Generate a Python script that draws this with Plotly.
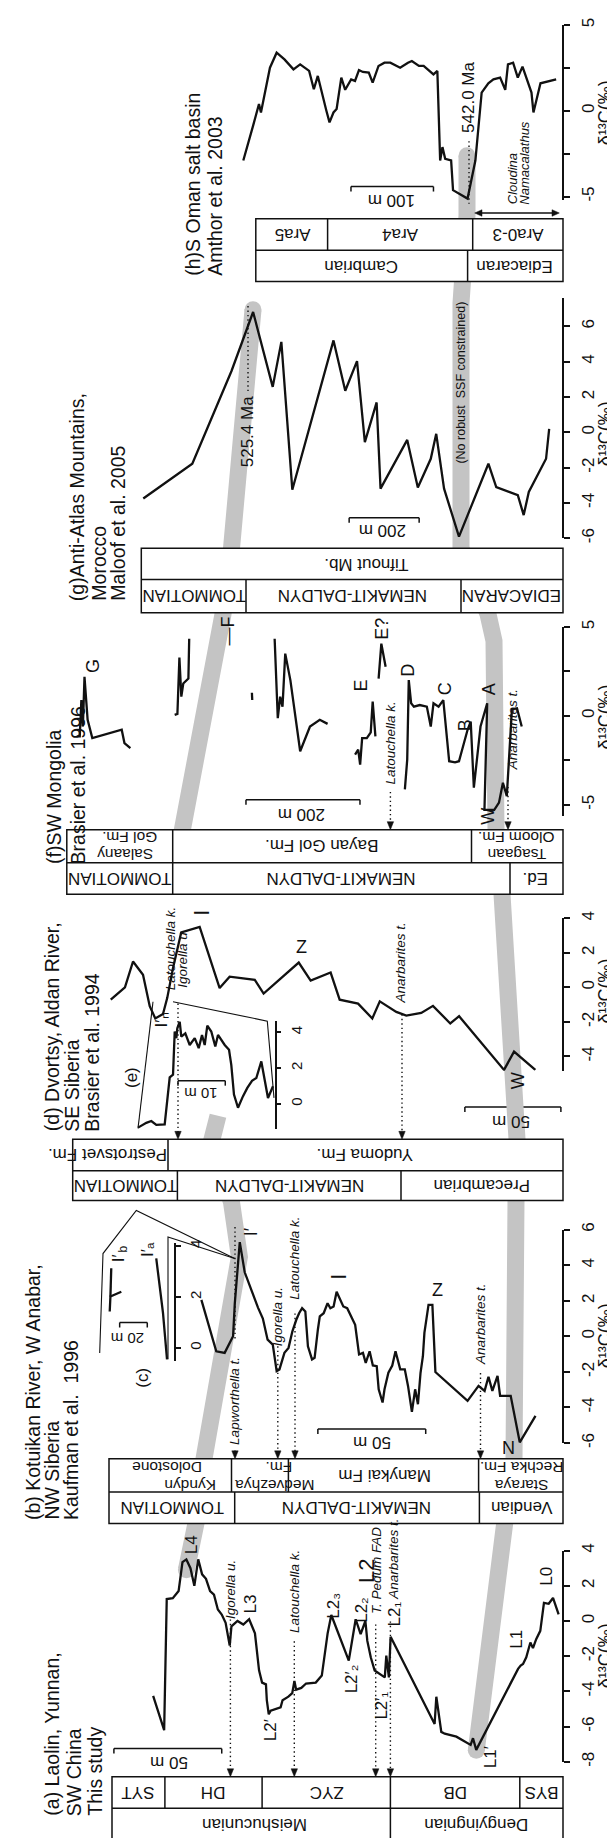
import plotly.graph_objects as go

W, H = 615, 1838
FONT = "Liberation Sans, Arial, Helvetica, sans-serif"
INK = "#111111"
BAND = "#c4c4c4"

# ---------------- data (height in m, d13C in permil) ----------------
# (a) Laolin, Yunnan
a_height = [1.1, 3.7, 5.7, 7.9, 9.6, 11.5, 13.0, 14.2, 16.1, 17.6, 18.7, 19.9, 39.3, 40.8, 41.9, 44.6,
            48.5, 53.9, 55.5, 57.8, 58.6, 79.0, 79.8, 81.0, 81.7, 86.4, 88.2, 89.8, 90.7, 92.9, 95.2,
            98.4, 106.5, 108.2, 109.5, 110.9, 113.7, 118.2, 120.4, 122.8, 123.6, 124.6, 126.4, 129.1,
            130.0, 134.6, 135.5, 136.4, 136.8, 138.6, 140.0, 141.9, 144.6, 147.3, 150.0, 152.8, 153.6,
            155.5, 157.3, 159.1, 160.9, 162.7, 164.6, 166.4, 168.2, 170.0, 171.8, 173.7, 175.5, 177.3,
            180.0, 182.8, 184.0, 189.1]
a_d13c = [0.38, 1.31, 0.98, 1.03, -0.56, -1.03, -1.54, -1.22, -2.06, -2.44, -2.53, -2.72, -7.32, -6.66,
          -7.04, -6.85, -6.57, -6.4, -6.3, -4.3, -5.85, -0.9, -3.2, -1.97, -3.2, -2.81, -2.06, -1.13, 0.0,
          -0.75, 0.1, -2.25, 0.34, -0.7, -1.85, -3.1, -3.5, -3.55, -3.8, -3.9, -3.4, -4.1, -4.3, -4.5,
          -4.9, -5.1, -5.3, -4.5, -3.6, -3.5, -2.8, -0.7, 0.1, -0.2, 0.0, -0.3, -1.4, -0.1, 0.37, 0.65,
          1.5, 1.7, 2.4, 2.65, 3.5, 2.0, 3.0, 3.5, 3.35, 1.7, 1.3, 1.25, -6.2, -4.25]
a_ticks = [-8, -6, -4, -2, 0, 2, 4]

# (b) Kotuikan River
b_height = [5.8, 13.1, 17.3, 22.2, 23.4, 25.8, 27.6, 29.4, 32.2, 37.3, 52.2, 53.6, 55.4, 57.3, 58.0,
            59.1, 60.3, 61.6, 63.1, 64.9, 66.4, 68.5, 70.7, 72.2, 74.0, 75.8, 76.7, 78.5, 79.4, 81.2,
            82.7, 84.5, 85.8, 87.6, 89.4, 91.3, 93.1, 94.9, 96.2, 98.0, 99.4, 100.9, 102.2, 104.0, 105.8,
            106.7, 108.2, 109.4, 111.3, 112.5, 114.0, 115.4, 116.7, 118.5, 120.3, 122.2, 124.5, 125.8,
            127.6, 130.0, 132.2, 134.4, 137.5, 140.6, 142.9, 145.2, 146.0, 149.9, 153.8, 160.7]
b_d13c = [-4.47, -5.96, -3.35, -3.35, -2.23, -3.07, -2.27, -3.07, -2.79, -3.63, -2.01, 1.77, 1.77, 0.19,
          -1.12, -2.05, -3.82, -2.98, -4.25, -2.79, -1.86, -1.86, -0.84, -1.64, -2.05, -2.98, -3.72,
          -2.98, -1.68, -1.64, -0.84, -1.49, -0.93, -1.02, 0.65, 1.12, 1.58, 1.68, 2.05, 2.51, 1.68,
          1.58, 1.86, 1.30, 1.12, 0.37, -1.21, -1.30, -0.56, 1.40, 1.58, 1.30, 0.93, 0.28, -0.65, -0.93,
          -1.86, -1.96, -0.47, -0.19, 1.0, 1.6, 2.6, 3.6, 5.3, 1.86, 0.0, -0.93, -0.84, 2.05]
b_ticks = [-6, -4, -2, 0, 2, 4, 6]

# (c) inset of Kotuikan
c_Ia_height = [6.0, 8.9, 13.8]
c_Ia_d13c = [-0.45, 1.37, 3.52]
c_Ib_height = [39.1, 47.0, 47.5, None, 47.0, 46.4]
c_Ib_d13c = [2.21, 2.02, 1.43, None, 2.02, 3.13]
c_ticks = [0, 2, 4]

# (d) Dvortsy, Aldan River
d_height = [1.1, 12.2, 17.4, 40.8, 45.4, 54.4, 60.5, 68.3, 73.5, 82.1, 86.0, 93.4, 103.0, 107.7, 118.1,
            124.3, 142.6, 147.2, 160.3, 165.5, 175.9, 185.5, 189.8, 192.8, 195.0, 199.0, 201.9, 205.4,
            210.6, 214.8, 222.2]
d_d13c = [-4.78, -3.72, -4.78, -1.67, -2.09, -1.07, -1.48, -1.63, -1.42, -0.81, -1.8, -0.94, -0.71,
          0.86, 0.39, 1.44, -0.36, 0.44, 0.62, -0.04, 3.51, 3.18, 1.11, -0.62, -1.54, -1.8, -1.09, 0.73,
          1.5, 0.0, -0.71]
d_ticks = [-4, -2, 0, 2, 4]

# (e) inset of Dvortsy
e_height = [0.57, 1.63, 3.04, 4.10, 5.01, 6.00, 6.91, 7.97, 8.82, 9.39, 9.87, 10.78, 12.20, 12.77,
            13.62, 14.46, 15.01, 15.58, 16.28, 17.12, 18.18, 19.11, 19.96, 20.30, 20.80, 21.01, 21.35,
            21.71, 22.41, 23.47, 25.24, 26.30, 27.36, 29.11]
e_d13c = [0.98, 0.33, 2.37, 1.44, 1.29, 0.89, 0.43, -0.22, 0.52, 2.18, 3.02, 3.29, 3.85, 3.21, 4.04,
          4.37, 3.29, 3.85, 3.11, 3.67, 3.29, 3.94, 3.76, 4.59, 4.22, 3.67, 4.04, 1.63, 1.48, -1.15,
          -1.18, -0.96, -1.06, -1.33]
e_ticks = [0, 2, 4]

# (f) SW Mongolia (separate segments split by None)
f_height = [2.2, 10.5, 19.4, 28.4, 35.2, 42.1, 50.4, 67.6, 62.8, 69.6, 74.5, 86.2, 91.7, 97.2, 104.1,
            112.3, 119.2, 129.5, 139.8, 148.1, 157.0, 161.8, 168.7, 181.1, 191.4, 196.2, 200.4, 203.1,
            207.2, None,
            294.6, 289.1, 285.7, 282.2, 274.0, 267.1, 263.7, 260.2, 258.9, None,
            253.3, 248.5, 241.0, None,
            435.7, 430.2, 426.0, 421.9, 417.1, 408.1, 390.9, 373.7, 356.5, 342.8, None,
            475.6, 475.0, None,
            611.1, 606.3, 602.8, 599.4, 596.0, 590.5, 587.0, 585.6, None,
            783.1, 777.6, 774.8, 772.1, 769.3, 763.8, 755.6, 704.0, 699.2, 688.8]
f_d13c = [-0.60, 0.43, 0.37, -4.51, -3.76, -4.88, -5.29, -5.29, 0.71, -0.13, -0.60, -4.04, -0.32, -0.78,
          -1.53, -2.55, -2.61, -2.55, 0.89, 0.52, 0.71, -0.60, 0.52, 0.61, 0.52, 0.71, 2.01, -2.46,
          -4.13, None,
          -2.18, -1.90, -2.74, -1.25, -1.25, -0.93, 0.80, -0.32, -1.15, None,
          2.10, 4.06, 2.76, None,
          4.34, -0.13, 1.08, 0.52, 3.50, 2.01, -1.99, -0.60, -0.22, -0.45, None,
          1.30, 0.89, None,
          0.06, 0.11, 3.28, 1.08, 1.82, 2.01, 2.10, 4.34, None,
          -1.15, -1.15, 0.89, -0.60, 2.20, -0.22, -1.25, -0.78, -1.53, -1.81]
f_ticks = [-5, -2.5, 0, 2.5, 5]
f_ticktext = ["-5", "", "0", "", "5"]

# (g) Anti-Atlas, Morocco
g_height = [-0.5, 8.4, 57.7, 72.3, 89.1, 150.7, 173.1, 257.2, 299.8, 322.2, 337.8, 374.8, 405.1,
            481.3, 492.5, 526.1, 548.5, 582.1, 615.7, 733.4, 764.7, 789.4, 845.4, 907.1, 1019.1, 1159.2]
g_d13c = [0.19, -1.50, -3.38, -4.69, -3.56, -3.10, -1.78, -5.91, -3.19, -0.09, -1.50, -3.13, -0.43,
          -3.19, 1.69, -0.56, 4.03, 2.35, 5.20, -3.25, 5.12, 2.57, 6.81, 3.47, -1.78, -3.75]
g_ticks = [-6, -4, -2, 0, 2, 4, 6]

# (h) S Oman salt basin
h_height = [-0.2, 18.8, 27.3, 29.7, 40.6, 46.3, 52.0, 58.2, 61.5, 67.7, 75.8, 82.0, 90.1, 97.7, 107.2,
            124.8, 127.1, 134.3, 137.6, 140.4, 143.8, 148.5, 160.4, 166.1, 174.7, 179.4, 188.9, 200.8,
            207.9, 215.1, 222.2, 226.9, 234.1, 238.8, 243.6, 248.3, 255.5, 260.2, 265.9, 269.7, 274.5,
            278.3, 288.7, 293.5, 299.2, 310.1, 318.2, 329.1, 338.6, 346.7, 357.6, 360.0, 367.1, 379.0]
h_d13c = [1.83, 1.60, -0.10, 1.06, 2.57, 1.93, 2.80, 2.70, 1.22, 1.93, 1.83, 1.60, 1.06, -2.90, -5.12,
          -4.63, -2.90, -2.80, -2.12, -2.90, 2.32, 2.12, 2.61, 2.61, 2.90, 2.80, 2.51, 2.80, 2.80, 2.61,
          1.64, 2.22, 2.26, 2.37, 1.74, 1.83, 1.22, 1.93, 0.10, -0.10, -0.68, 0.0, 2.03, 1.25, 2.32,
          2.70, 2.41, 2.99, 3.38, 2.51, -0.10, 0.39, -0.87, -2.90]
h_ticks = [-5, -2.5, 0, 2.5, 5]
h_ticktext = ["-5", "", "0", "", "5"]

# scale bar lengths (m)
scale_a, scale_b, scale_d, scale_f, scale_g, scale_h, scale_c, scale_e = 50, 50, 50, 200, 200, 100, 20, 10


def py(Y):
    return 1 - Y / H


fig = go.Figure()
# base pixel-space axis for layout decorations
fig.add_trace(go.Scatter(x=[0], y=[0], mode="markers", marker=dict(opacity=0), hoverinfo="skip",
                         showlegend=False, xaxis="x", yaxis="y"))

layout = dict(
    width=W, height=H, margin=dict(l=0, r=0, t=0, b=0), paper_bgcolor="white",
    plot_bgcolor="rgba(0,0,0,0)", showlegend=False, font=dict(family=FONT, color=INK, size=16),
    xaxis=dict(domain=[0, 1], range=[0, W], visible=False, fixedrange=True),
    yaxis=dict(domain=[0, 1], range=[H, 0], visible=False, fixedrange=True),
)

panels = [
    # idx, heights, values, x-px of d13C axis, xrange, Y bottom, Y top, yrange, ticks, ticktext, font, ticklen, standoff
    (2, a_height, a_d13c, 555, [256.4, -0.93], 1758.3, 1545.7, [-8, 4], a_ticks, None, 17, 6, 4),
    (3, b_height, b_d13c, 555, [250.35, -6.95], 1437.4, 1222.6, [-6, 6], b_ticks, None, 17, 6, 4),
    (4, c_Ia_height, c_Ia_d13c, 167.3, [121.2, 0], 1354.5, 1236.2, [-0.5, 4.12], c_ticks, None, 15, 5, 2),
    (5, d_height, d_d13c, 555, [275.7, -13.3], 1062.7, 909.3, [-4.83, 4], d_ticks, None, 17, 6, 4),
    (6, e_height, e_d13c, 267.7, [56.6, 0], 1121.2, 1012.8, [-1.4, 4.62], e_ticks, None, 15, 5, 3),
    (7, f_height, f_d13c, 555, [903.5, -70.2], 806.6, 616, [-5.65, 5], f_ticks, f_ticktext, 17, 6, 4),
    (8, g_height, g_d13c, 555, [1545.7, -40], 526.7, 284.9, [-6, 7.6], g_ticks, None, 17, 6, 4),
    (9, h_height, h_d13c, 555, [664.2, -8.5], 186.7, 10, [-5.23, 5], h_ticks, h_ticktext, 17, 6, 4),
]

for idx, hs, ds, xr_px, xr, yb, yt, yr, tv, tt, fs, tl, so in panels:
    layout[f"xaxis{idx}"] = dict(domain=[0, xr_px / W], range=xr, visible=False, fixedrange=True,
                                 anchor=f"y{idx}")
    layout[f"yaxis{idx}"] = dict(
        domain=[py(yb), py(yt)], range=yr, anchor="free", position=xr_px / W, side="right",
        showline=True, linecolor=INK, linewidth=1.5, ticks="outside", ticklen=tl, tickwidth=1.5,
        tickcolor=INK, tickvals=tv, ticktext=tt if tt else [str(v) for v in tv], tickangle=-90,
        tickfont=dict(size=fs, family=FONT, color=INK), showgrid=False, zeroline=False,
        fixedrange=True, ticklabelstandoff=so)
    fig.add_trace(go.Scatter(x=hs, y=ds, xaxis=f"x{idx}", yaxis=f"y{idx}", mode="lines",
                             line=dict(color=INK, width=2.3), hoverinfo="skip", showlegend=False,
                             connectgaps=False))
# second inset curve in (c)
fig.add_trace(go.Scatter(x=c_Ib_height, y=c_Ib_d13c, xaxis="x4", yaxis="y4", mode="lines",
                         line=dict(color=INK, width=2.3), hoverinfo="skip", showlegend=False,
                         connectgaps=False))

shapes = []
ann = []


def line(x0, y0, x1, y1, w=1.5, dash=None, xref="x"):
    d = dict(type="line", x0=x0, y0=y0, x1=x1, y1=y1, xref=xref, yref="y", layer="below",
             line=dict(color=INK, width=w))
    if dash:
        d["line"]["dash"] = dash
    shapes.append(d)


def path(p, w=1.0, color=INK, fill=None, layer="below"):
    d = dict(type="path", path=p, xref="x", yref="y", layer=layer, line=dict(color=color, width=w))
    if fill:
        d["fillcolor"] = fill
    shapes.append(d)


def text(x, y, s, size=16, angle=0, italic=False, xa="center", ya="middle"):
    f = dict(size=size, family=FONT, color=INK)
    if italic:
        f["style"] = "italic"
    ann.append(dict(x=x, y=y, xref="x", yref="y", text=s, showarrow=False, textangle=angle,
                    font=f, xanchor=xa, yanchor=ya))


# ---- grey correlation bands ----
BW = 17
path("M 178.4,1565 L 188,1518 L 196,1453.3 L 231.4,1250 L 223.5,1195 L 204,1131.7 L 210,1108",
     w=BW, color=BAND)
path("M 172.5,830 L 215,603 L 223.5,536.7 L 245,296.7", w=BW, color=BAND)
path("M 468.3,1746.7 L 496.7,1518 L 506,1453.3 L 508,1193 L 509,1131.7 L 494,885 L 488,820 "
     "L 486,630 L 480,603 L 453,536.7 L 453,290 L 459,201.7 L 459,141.7", w=BW, color=BAND)
for cx, cy in [(178.4, 1565), (468.3, 1746.7), (245, 296.7), (459, 141.7)]:
    r = BW / 2
    shapes.append(dict(type="circle", x0=cx - r, x1=cx + r, y0=cy - r, y1=cy + r, xref="x", yref="y",
                       layer="below", fillcolor=BAND, line=dict(width=0)))

# ---- stratigraphic boxes ----
boxes = [
    dict(x0=104, x1=555, y0=1773.3, y1=1805, y2=1836.7, d1=[511.8, 382.4, 254.1, 156.9], d2=[382.4],
         t1=[(533.3, "BYS", 0), (447, "DB", 0), (318.4, "ZYC", 0), (204.7, "DH", 0), (130.2, "SYT", 0)],
         t2=[(468.6, "Dengyingnian"), (247, "Meishucunian")]),
    dict(x0=101, x1=555, y0=1453.3, y1=1486.7, y2=1518.3, d1=[470.6, 280.4, 223.5], d2=[471.4, 226.7],
         t1=[(513.7, "Staraya", 9.5), (513.7, "Rechka Fm.", -8.5), (376.5, "Manykai Fm", 0),
             (266.7, "Medvezhya", 9.5), (270.6, "Fm.", -8.5), (182, "Kyndyn", 9.5), (159, "Dolostone", -8.5)],
         t2=[(513.7, "Vendian"), (349, "NEMAKIT-DALDYN"), (164, "TOMMOTIAN")]),
    dict(x0=64.7, x1=555, y0=1131.7, y1=1163.3, y2=1193.3, d1=[160], d2=[169.4, 393],
         t1=[(100, "Pestrotsvet Fm.", 0), (357, "Yudoma Fm.", 0)],
         t2=[(117.6, "TOMMOTIAN"), (281.6, "NEMAKIT-DALDYN"), (474.5, "Precambrian")]),
    dict(x0=58.8, x1=555, y0=820, y1=853.3, y2=885, d1=[164.7, 463.5], d2=[164.7, 502],
         t1=[(117.6, "Salaany", 8.5), (121.6, "Gol Fm.", -8.5), (313.7, "Bayan Gol Fm.", 0),
             (508.6, "Tsagaan", 8.5), (507.8, "Oloom Fm.", -8.5)],
         t2=[(111.8, "TOMMOTIAN"), (333.3, "NEMAKIT-DALDYN"), (527.5, "Ed.")]),
    dict(x0=133.3, x1=555, y0=536.7, y1=568.3, y2=601.7, d1=[], d2=[238, 453],
         t1=[(358.8, "Tifnout Mb.", 0)],
         t2=[(186, "TOMMOTIAN"), (345, "NEMAKIT-DALDYN"), (504, "EDIACARAN")]),
    dict(x0=247.8, x1=555, y0=205, y1=236.7, y2=268.3, d1=[319.6, 464.7], d2=[459.6],
         t1=[(284.3, "Ara5", 0), (392, "Ara4", 0), (509.8, "Ara0-3", 0)],
         t2=[(353, "Cambrian"), (505.9, "Ediacaran")]),
]
for b in boxes:
    shapes.append(dict(type="rect", x0=b["x0"], x1=b["x1"], y0=b["y0"], y1=b["y2"], xref="x", yref="y",
                       layer="below", fillcolor="white", line=dict(color=INK, width=1.5)))
    line(b["x0"], b["y1"], b["x1"], b["y1"])
    for xd in b["d1"]:
        line(xd, b["y0"], xd, b["y1"])
    for xd in b["d2"]:
        line(xd, b["y1"], xd, b["y2"])
    c1 = (b["y0"] + b["y1"]) / 2
    c2 = (b["y1"] + b["y2"]) / 2
    for xt, s, dy in b["t1"]:
        text(xt, c1 + dy, s, size=15.5 if dy else 17, angle=180)
    for xt, s in b["t2"]:
        text(xt, c2, s, size=17, angle=180)

# ---- dotted biostratigraphic markers with arrows ----
DOT = "1.4px,3px"
arrows = [
    (222.4, 1615, 1773.3), (286.3, 1637, 1773.3), (367.7, 1620, 1773.3), (382.4, 1617, 1773.3),
    (227, 1445, 1453.3), (269.8, 1340, 1453.3), (287, 1307, 1453.3), (472.5, 1367, 1453.3),
    (170, 995, 1131.7), (394, 1006, 1131.7),
    (382.4, 782, 820), (500, 777, 820),
]
for xa_, ya0, ya1 in arrows:
    line(xa_, ya0, xa_, ya1 - 6, w=1.4, dash=DOT)
    path(f"M {xa_ - 3.2},{ya1 - 8} L {xa_ + 3.2},{ya1 - 8} L {xa_},{ya1} Z", w=0.5, fill=INK)
line(227, 1220, 227, 1335, w=1.4, dash=DOT)
line(240, 293, 240, 380, w=1.4, dash=DOT)
line(461, 127, 461, 190, w=1.4, dash=DOT)
# double arrow (h)
line(470, 199.3, 548, 199.3, w=1.3)
path("M 474,196 L 474,202.6 L 466.7,199.3 Z", w=0.5, fill=INK)
path("M 544,196 L 544,202.6 L 551.3,199.3 Z", w=0.5, fill=INK)

# ---- inset connectors ----
path("M 226.7,1251.7 L 128.3,1203.3 L 95,1246.7 L 91.7,1346.7", w=1.1)
path("M 226.7,1251.7 L 160,1230 L 160,1353", w=1.1)
path("M 130,1120.7 L 145,993.3", w=1.1)
path("M 165,993.3 L 259.3,1012.7 L 266,1090", w=1.1)

# ---- scale bars (drawn in section metres) ----
bars = [
    ("x2", 157.3, scale_a, 1745, 161, 1759, "50 m"),
    ("x3", 56.7, scale_b, 1423.3, 364, 1437, "50 m"),
    ("x5", -12.2, scale_d, 1099.3, 503, 1114, "50 m"),
    ("x7", 286, scale_f, 790, 294, 805, "200 m"),
    ("x8", 371, scale_g, 506, 374.5, 519, "200 m"),
    ("x9", 148.5, scale_h, 172.7, 384, 186, "100 m"),
    ("x4", 20.3, scale_c, 1316, 120, 1332, "20 m"),
    ("x6", 10.66, scale_e, 1072.7, 193.3, 1085, "10 m"),
]
for xr_, h0, ln, yb_, tx, ty, s in bars:
    line(h0, yb_, h0 + ln, yb_, w=1.5, xref=xr_)
    line(h0, yb_, h0, yb_ + 5, w=1.5, xref=xr_)
    line(h0 + ln, yb_, h0 + ln, yb_ + 5, w=1.5, xref=xr_)
    text(tx, ty, s, size=15 if ln <= 20 else 17, angle=180)

# ---- panel titles ----
titles = [
    (44, 1815, "(a) Laolin, Yunnan,"), (66, 1815, "SW China"), (87, 1815, "This study"),
    (25, 1517, "(b) Kotuikan River, W Anabar,"), (44, 1517, "NW Siberia"), (63, 1517, "Kaufman et al.  1996"),
    (44, 1126, "(d) Dvortsy, Aldan River,"), (64, 1126, "SE Siberia"), (84, 1126, "Brasier et al. 1994"),
    (46, 857, "(f)SW Mongolia"), (70, 857, "Brasier et al. 1996"),
    (69, 592, "(g)Anti-Atlas Mountains,"), (91, 592, "Morocco"), (110, 592, "Maloof et al. 2005"),
    (185, 265, "(h)S Oman salt basin"), (207, 265, "Amthor et al. 2003"),
]
for x_, yb_, s in titles:
    text(x_, yb_, s, size=19.5, angle=-90, ya="bottom")

# ---- axis titles ----
for yc in [1652, 1330, 983, 707, 422, 99]:
    text(597, yc, "δ¹³C(‰)", size=18, angle=-90)

# ---- curve labels ----
labels = [
    ("L4", 184.3, 1540, 17, -90), ("L3", 243, 1600, 17, -90), ("L2′", 262.7, 1726.7, 17, -90),
    ("L2₃", 325.5, 1601.7, 17, -90), ("L2₂", 353.3, 1605, 17, -90),
    ("L2", 358.3, 1566, 22, -90), ("L2′₂", 343.3, 1675, 17, -90),
    ("L2′₁", 374, 1701.7, 17, -90), ("L2₁", 386, 1610, 17, -90),
    ("L1", 508.3, 1635, 17, -90), ("L1′", 483.3, 1753.3, 17, -90), ("L0", 538.3, 1571.7, 17, -90),
    ("I′", 243.3, 1225, 18, -90), ("I", 331, 1270, 22, -90), ("Z", 429, 1283, 18, 0),
    ("N", 500, 1442, 18, 0), ("(c)", 135, 1371.7, 17, -90), ("I′ₐ", 140, 1243, 17, -90),
    ("I′", 110.5, 1252, 17, -90), ("b", 114.5, 1242, 12, -90),
    ("I", 193.3, 903.3, 22, -90), ("Z", 293.3, 938.3, 18, 0), ("I′ₙ", 153.3, 1011.7, 17, -90),
    ("W", 510, 1073.3, 18, -90), ("(e)", 123, 1070, 17, -90),
    ("G", 84.3, 655, 18, -90), ("—F", 219.6, 620, 18, -90), ("E", 353, 675, 18, -90),
    ("E?", 374.5, 618.3, 18, -90), ("D", 400, 660, 18, -90), ("C", 437.3, 678.3, 18, -90),
    ("B", 456.9, 715, 18, -90), ("A", 480.4, 678.3, 18, -90), ("W", 480.4, 806.7, 18, -90),
]
for s, x_, y_, fs, ang in labels:
    text(x_, y_, s, size=fs, angle=ang)

fossils = [
    ("Igorella u.", 222.4, 1585), ("Latouchella k.", 286.3, 1587), ("T. Pedum FAD", 368.3, 1566),
    ("Anarbarites t.", 386, 1555),
    ("Lapworthella t.", 227, 1395), ("Igorella u.", 269.8, 1310), ("Latouchella k.", 287, 1252),
    ("Anarbarites t.", 472.5, 1318),
    ("Latouchella k.", 163.3, 940), ("Igorella u.", 175, 950), ("Anarbarites t.", 392.7, 954),
    ("Latouchella k.", 382.4, 733), ("Anarbarites t.", 504, 720),
]
for s, x_, y_ in fossils:
    text(x_, y_, s, size=13.5, angle=-90, italic=True)
text(504, 193, "Cloudina", size=13, angle=-90, italic=True, ya="bottom")
text(517, 193, "Namacalathus", size=13, angle=-90, italic=True, ya="bottom")
text(239, 420, "525.4 Ma", size=17, angle=-90)
text(461, 83.5, "542.0 Ma", size=17, angle=-90)
text(453, 370, "(No robust  SSF constrained)", size=12.5, angle=-90)

layout["shapes"] = shapes
layout["annotations"] = ann
fig.update_layout(**layout)
fig.write_html("out.html")
